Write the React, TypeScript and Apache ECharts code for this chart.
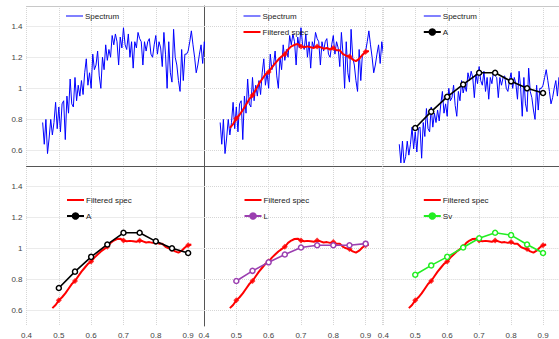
import React, { useEffect, useRef } from "react";
import * as echarts from "echarts";

// ---------- data ----------
const SPEC_X0 = 0.45;
const SPEC_STEP = 0.005;
const spectrum = [
  0.78, 0.64, 0.8, 0.58, 0.68, 0.8, 0.7, 0.78, 0.91, 0.74,
  0.88, 0.72, 0.9, 0.92, 0.67, 0.95, 0.84, 1.06, 0.9, 0.88,
  1.07, 0.92, 1.02, 0.95, 1.05, 0.96, 1.1, 1.19, 1.02, 1.1,
  1.0, 1.22, 1.12, 1.15, 1.24, 1.08, 1.0, 1.2, 1.12, 1.28,
  1.18, 1.25, 1.2, 1.34, 1.28, 1.35, 1.3, 1.15, 1.33, 1.26,
  1.39, 1.28, 1.25, 1.35, 1.2, 1.3, 1.13, 1.3, 1.26, 1.36,
  1.32, 1.3, 1.15, 1.3, 1.24, 1.3, 1.32, 1.22, 1.2, 1.28,
  1.34, 1.22, 1.3, 1.26, 1.14, 1.36, 1.22, 1.0, 1.3, 1.1,
  1.04, 1.38, 1.2, 1.15, 1.05, 0.98, 1.25, 1.05, 1.22, 1.22,
  1.24, 1.3, 1.37, 1.28, 1.2, 1.1, 1.15, 1.22, 1.28, 1.16,
  1.3, 1.22,
];
const spectrumNorm = [
  0.64, 0.52, 0.66, 0.52, 0.56, 0.66, 0.57, 0.64, 0.75, 0.61,
  0.72, 0.59, 0.74, 0.75, 0.55, 0.78, 0.69, 0.87, 0.74, 0.72,
  0.88, 0.75, 0.84, 0.78, 0.86, 0.79, 0.9, 0.98, 0.84, 0.9,
  0.82, 1.0, 0.92, 0.94, 1.02, 0.89, 0.82, 0.98, 0.92, 1.05,
  0.97, 1.02, 0.98, 1.1, 1.05, 1.11, 1.07, 0.94, 1.09, 1.03,
  1.14, 1.05, 1.02, 1.11, 0.98, 1.07, 0.93, 1.07, 1.03, 1.11,
  1.08, 1.07, 0.94, 1.07, 1.02, 1.07, 1.08, 1.0, 0.98, 1.05,
  1.1, 1.0, 1.07, 1.03, 0.93, 1.11, 1.0, 0.82, 1.07, 0.9,
  0.85, 1.13, 0.98, 0.94, 0.86, 0.8, 1.02, 0.86, 1.0, 1.0,
  1.02, 1.07, 1.12, 1.05, 0.98, 0.9, 0.94, 1.0, 1.05, 0.95,
  1.07, 1.0,
];

const FILT_X0 = 0.48;
const FILT_STEP = 0.01;
const filtered = [
  0.745, 0.77, 0.805, 0.83, 0.86, 0.895, 0.93, 0.955, 0.99, 1.03,
  1.06, 1.09, 1.105, 1.135, 1.16, 1.185, 1.205, 1.22, 1.25, 1.27,
  1.28, 1.285, 1.27, 1.265, 1.27, 1.265, 1.26, 1.27, 1.265, 1.255,
  1.26, 1.25, 1.26, 1.245, 1.245, 1.22, 1.21, 1.205, 1.185, 1.175,
  1.19, 1.215, 1.235, 1.24,
];
const filteredNorm = [
  0.615, 0.635, 0.665, 0.685, 0.71, 0.74, 0.77, 0.79, 0.82, 0.85,
  0.875, 0.9, 0.915, 0.94, 0.96, 0.98, 0.995, 1.01, 1.035, 1.05,
  1.06, 1.062, 1.05, 1.045, 1.048, 1.045, 1.042, 1.05, 1.045, 1.038,
  1.04, 1.035, 1.04, 1.03, 1.03, 1.01, 1.0, 0.995, 0.98, 0.972,
  0.985, 1.005, 1.02, 1.025,
];

const bands = [0.5, 0.55, 0.6, 0.65, 0.7, 0.75, 0.8, 0.85, 0.9];
const filteredAtBands = [0.805, 0.955, 1.105, 1.22, 1.27, 1.27, 1.26, 1.205, 1.235];
const filteredNormAtBands = [0.665, 0.79, 0.915, 1.01, 1.05, 1.05, 1.04, 0.995, 1.02];
const valuesA = [0.745, 0.85, 0.945, 1.025, 1.1, 1.1, 1.045, 1.0, 0.97];
const valuesL = [0.79, 0.855, 0.91, 0.96, 1.005, 1.02, 1.02, 1.02, 1.03];
const valuesSv = [0.83, 0.89, 0.945, 1.005, 1.065, 1.1, 1.085, 1.025, 0.97];

const yGridValues = [0.6, 0.8, 1.0, 1.2, 1.4];

// ---------- styling / layout ----------
const FONT = "Liberation Sans, Arial, Helvetica, sans-serif";
const COL_LEFT = [26.5, 204, 383.3];
const COL_WIDTH = [177.8, 177.8, 177.2];
const ROW_TOP = [6, 166];
const ROW_HEIGHT = 160;
const X_MIN = 0.4;
const X_MAX = 0.95;
const Y_MIN = 0.5;
const Y_MAX = 1.53;

const BLUE = "#0000ff";
const RED = "#ff0000";
const BLACK = "#000000";
const PURPLE = "#9b3fb0";
const GREEN = "#22ee22";
const GRID_COLOR = "#d6d6d6";

const ICON_THIN = "path://M0 0H17V1H0Z";
const ICON_THICK = "path://M0 0H17V2H0Z";

const specPairs = (vals: number[]) =>
  vals.map((v, i) => [+(SPEC_X0 + i * SPEC_STEP).toFixed(3), v]);
const filtPairs = (vals: number[]) =>
  vals.map((v, i) => [+(FILT_X0 + i * FILT_STEP).toFixed(2), v]);
const bandPairs = (vals: number[]) => vals.map((v, i) => [bands[i], v]);

function buildOption() {
  const grids: any[] = [];
  const xAxes: any[] = [];
  const yAxes: any[] = [];
  const series: any[] = [];
  const legends: any[] = [];

  const gridMarkLine = {
    silent: true,
    symbol: ["none", "none"],
    label: { show: false },
    z: 1,
    lineStyle: { type: "dotted", color: GRID_COLOR, width: 1 },
    emphasis: { disabled: true },
    data: yGridValues.map((v) => ({ yAxis: v })),
  };

  const panels = [
    { row: 0, col: 0, items: ["spec"] },
    { row: 0, col: 1, items: ["spec", "filt"] },
    { row: 0, col: 2, items: ["specNorm", "A"] },
    { row: 1, col: 0, items: ["filtNorm", "A"] },
    { row: 1, col: 1, items: ["filtNorm", "L"] },
    { row: 1, col: 2, items: ["filtNorm", "Sv"] },
  ];

  panels.forEach((p, i) => {
    grids.push({
      left: COL_LEFT[p.col],
      top: ROW_TOP[p.row],
      width: COL_WIDTH[p.col],
      height: ROW_HEIGHT,
      containLabel: false,
    });
    xAxes.push({
      gridIndex: i,
      type: "value",
      position: "bottom",
      min: X_MIN,
      max: X_MAX,
      interval: 0.1,
      axisLine: { show: p.row === 0, onZero: false, lineStyle: { color: "#555", width: 1 } },
      axisTick: { show: false },
      axisLabel: {
        show: p.row === 1,
        fontSize: 8,
        fontFamily: FONT,
        color: "#444",
        margin: 5,
        showMaxLabel: false,
        formatter: (v: number) => String(+v.toFixed(1)),
      },
      splitLine: { show: true, lineStyle: { type: "dotted", color: GRID_COLOR, width: 1 } },
    });
    yAxes.push({
      gridIndex: i,
      type: "value",
      min: Y_MIN,
      max: Y_MAX,
      interval: 0.1,
      axisLine: { show: p.col === 1, onZero: false, lineStyle: { color: "#555", width: 1 } },
      axisTick: { show: false },
      axisLabel: {
        show: p.col === 0,
        fontSize: 8,
        fontFamily: FONT,
        color: "#444",
        margin: 4,
        showMinLabel: false,
        showMaxLabel: false,
        formatter: (v: number) => {
          const t = Math.round(v * 10);
          if (t % 2 !== 0 || t < 6 || t > 14) return "";
          return String(t / 10);
        },
      },
      splitLine: { show: false },
    });

    const legendData: any[] = [];
    p.items.forEach((kind, k) => {
      const base: any = {
        xAxisIndex: i,
        yAxisIndex: i,
        animation: false,
      };
      let s: any;
      if (kind === "spec" || kind === "specNorm") {
        s = {
          ...base,
          type: "line",
          name: "Spectrum",
          data: specPairs(kind === "spec" ? spectrum : spectrumNorm),
          symbol: "none",
          showSymbol: false,
          lineStyle: { color: BLUE, width: 1 },
          itemStyle: { color: BLUE },
          z: 2,
        };
        legendData.push({ name: "Spectrum", icon: ICON_THIN });
      } else if (kind === "filt" || kind === "filtNorm") {
        s = {
          ...base,
          type: "line",
          name: "Filtered spec",
          data: filtPairs(kind === "filt" ? filtered : filteredNorm),
          symbol: "none",
          showSymbol: false,
          lineStyle: { color: RED, width: 2 },
          itemStyle: { color: RED },
          z: 3,
        };
        legendData.push({ name: "Filtered spec", icon: ICON_THICK });
        series.push({
          ...base,
          type: "scatter",
          name: "filtered-marks",
          data: bandPairs(kind === "filt" ? filteredAtBands : filteredNormAtBands),
          symbol: "diamond",
          symbolSize: 6,
          itemStyle: { color: RED },
          z: 3,
        });
      } else {
        const color = kind === "A" ? BLACK : kind === "L" ? PURPLE : GREEN;
        const vals = kind === "A" ? valuesA : kind === "L" ? valuesL : valuesSv;
        s = {
          ...base,
          type: "line",
          name: kind,
          data: bandPairs(vals),
          symbol: "circle",
          symbolSize: 5,
          showSymbol: true,
          lineStyle: { color, width: 1.6 },
          itemStyle: { color: "#ffffff", borderColor: color, borderWidth: 1.5 },
          z: 4,
        };
        legendData.push({ name: kind, itemStyle: { color, borderColor: color } });
      }
      if (k === 0) s.markLine = gridMarkLine;
      series.push(s);
    });

    legends.push({
      orient: "vertical",
      left: COL_LEFT[p.col] + 39.5,
      top: p.row === 0 ? 12 : 196,
      padding: 0,
      itemWidth: 17,
      itemHeight: 7,
      itemGap: 8,
      selectedMode: false,
      textStyle: { fontSize: 8, fontFamily: FONT, color: "#222", padding: [0, 0, 0, -3] },
      data: legendData,
    });
  });

  // top border for upper row
  [0, 1, 2].forEach((i) => {
    xAxes.push({
      gridIndex: i,
      type: "value",
      position: "top",
      min: X_MIN,
      max: X_MAX,
      axisLine: { show: true, onZero: false, lineStyle: { color: "#c8c8c8", width: 1 } },
      axisTick: { show: false },
      axisLabel: { show: false },
      splitLine: { show: false },
    });
  });

  return {
    animation: false,
    backgroundColor: "#ffffff",
    grid: grids,
    xAxis: xAxes,
    yAxis: yAxes,
    legend: legends,
    series,
  };
}

export default function App() {
  const ref = useRef<HTMLDivElement>(null);
  useEffect(() => {
    if (!ref.current) return;
    const chart = echarts.init(ref.current, undefined, { renderer: "svg" });
    chart.setOption(buildOption() as any);
    return () => chart.dispose();
  }, []);
  return (
    <div
      ref={ref}
      style={{ position: "fixed", left: 0, top: 0, width: 559, height: 339, background: "#fff" }}
    />
  );
}
